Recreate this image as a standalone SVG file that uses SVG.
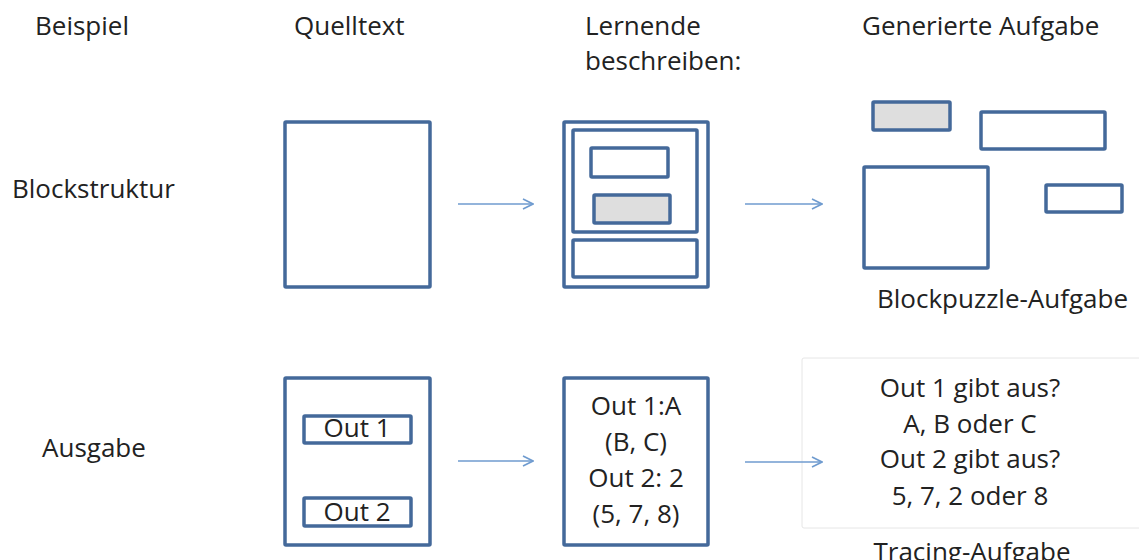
<svg xmlns="http://www.w3.org/2000/svg" width="1139" height="560" viewBox="0 0 1139 560">
<style>
text{font-family:"Open Sans","Liberation Sans",sans-serif;font-size:26px;fill:#222}
.c{text-anchor:middle}
.b{fill:#fff;stroke:#44699a;stroke-width:3.5}
.g{fill:#dedede;stroke:#44699a;stroke-width:3.5}
.a{stroke:#6f9bcf;stroke-width:1.6;fill:none}
</style>
<defs>
<marker id="ah" viewBox="0 0 12 12" refX="11" refY="6" markerWidth="12" markerHeight="12" markerUnits="userSpaceOnUse" orient="auto">
<path d="M1,1 L11,6 L1,11" fill="none" stroke="#6f9bcf" stroke-width="1.6"/>
</marker>
</defs>
<rect width="1139" height="560" fill="#fff"/>
<g id="headers">
<text x="35" y="35">Beispiel</text>
<text x="294" y="35">Quelltext</text>
<text x="585" y="35">Lernende</text>
<text x="585" y="70">beschreiben:</text>
<text x="862" y="35">Generierte Aufgabe</text>
<text x="12" y="198">Blockstruktur</text>
<text x="42" y="457">Ausgabe</text>
</g>
<g id="src-block">
<rect class="b" x="285" y="122" width="145" height="165" rx="1"/>
</g>
<g id="learn-block">
<rect class="b" x="564" y="122" width="144" height="165" rx="1"/>
<rect class="b" x="573" y="130" width="124" height="102" rx="1"/>
<rect class="b" x="591" y="148" width="77" height="29" rx="1"/>
<rect class="g" x="594" y="195" width="76" height="28" rx="1"/>
<rect class="b" x="573" y="240" width="124" height="37" rx="1"/>
</g>
<g id="task-block">
<rect class="g" x="873" y="102" width="77" height="28" rx="1"/>
<rect class="b" x="981" y="112" width="124" height="37" rx="1"/>
<rect class="b" x="864" y="167" width="124" height="101" rx="1"/>
<rect class="b" x="1046" y="185" width="76" height="27" rx="1"/>
<text x="877" y="308">Blockpuzzle-Aufgabe</text>
</g>
<g id="src-out">
<rect class="b" x="285" y="378" width="145" height="167" rx="1"/>
<rect class="b" x="304" y="416" width="107" height="27" rx="1"/>
<text class="c" x="357" y="437">Out 1</text>
<rect class="b" x="304" y="498" width="107" height="28" rx="1"/>
<text class="c" x="357" y="521">Out 2</text>
</g>
<g id="learn-out">
<rect class="b" x="564" y="378" width="144" height="167" rx="1"/>
<text class="c" x="636" y="415">Out 1:A</text>
<text class="c" x="636" y="451">(B, C)</text>
<text class="c" x="636" y="487">Out 2: 2</text>
<text class="c" x="636" y="523">(5, 7, 8)</text>
</g>
<g id="task-out">
<rect x="802" y="358" width="345" height="170" rx="2" fill="#fff" stroke="#e6e6e6" stroke-width="1"/>
<text class="c" x="970" y="397">Out 1 gibt aus?</text>
<text class="c" x="970" y="433">A, B oder C</text>
<text class="c" x="970" y="468">Out 2 gibt aus?</text>
<text class="c" x="970" y="505">5, 7, 2 oder 8</text>
<text class="c" x="972" y="561">Tracing-Aufgabe</text>
</g>
<g id="connectors">
<line class="a" x1="458" y1="204" x2="533" y2="204" marker-end="url(#ah)"/>
<line class="a" x1="745" y1="204" x2="822" y2="204" marker-end="url(#ah)"/>
<line class="a" x1="458" y1="461" x2="533" y2="461" marker-end="url(#ah)"/>
<line class="a" x1="745" y1="462" x2="822" y2="462" marker-end="url(#ah)"/>
</g>
</svg>
